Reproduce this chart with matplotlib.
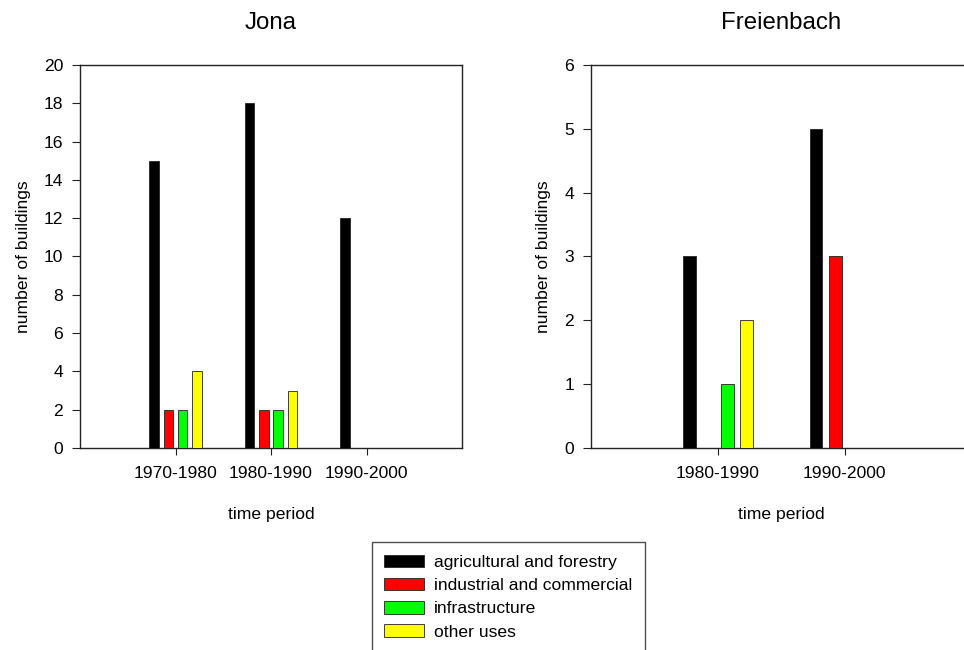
import numpy as np
import matplotlib
matplotlib.use('Agg')
import matplotlib.pyplot as plt
from matplotlib.patches import Patch

plt.rcParams['font.family'] = ['Liberation Sans', 'DejaVu Sans']

categories = ['agricultural and forestry', 'industrial and commercial',
              'infrastructure', 'other uses']
colors = ['#000000', '#ff0000', '#00ff00', '#ffff00']

# Jona
jona_periods = ['1970-1980', '1980-1990', '1990-2000']
jona_agri = [15, 18, 12]
jona_ind = [2, 2, 0]
jona_infra = [2, 2, 0]
jona_other = [4, 3, 0]

# Freienbach
frei_periods = ['1980-1990', '1990-2000']
frei_agri = [3, 5]
frei_ind = [0, 3]
frei_infra = [1, 0]
frei_other = [2, 0]

fs = 12.6
fig = plt.figure(figsize=(9.64, 6.5), dpi=100)


def draw_panel(ax, periods, series, title, ymax, xmax, right_spine=True):
    x = np.arange(1, len(periods) + 1)
    step, width = 0.15, 0.1
    for i, vals in enumerate(series):
        ax.bar(x + (i - 1.5) * step, vals, width, color=colors[i],
               edgecolor='#222222', linewidth=0.6, zorder=3)
    ax.set_xlim(0, xmax)
    ax.set_ylim(0, ymax)
    ax.set_xticks(x)
    ax.set_xticklabels(periods)
    ax.tick_params(axis='both', direction='out', labelsize=fs, color='#222222')
    ax.tick_params(axis='y', length=6, width=0.8, pad=6)
    ax.tick_params(axis='x', length=5, width=0.8, pad=8)
    for s in ax.spines.values():
        s.set_linewidth(1.0)
        s.set_color('#222222')
    ax.spines['right'].set_visible(right_spine)
    ax.set_title(title, fontsize=17.3, pad=26)
    ax.set_xlabel('time period', fontsize=fs, labelpad=19)
    ax.set_ylabel('number of buildings', fontsize=fs)


ax1 = fig.add_axes([0.0830, 0.3108, 0.3963, 0.5892])
draw_panel(ax1, jona_periods, [jona_agri, jona_ind, jona_infra, jona_other],
           'Jona', 20, 4)
ax1.set_yticks(np.arange(0, 21, 2))
ax1.yaxis.set_label_coords(-0.129, 0.5)

ax2 = fig.add_axes([0.6128, 0.3108, 0.3952, 0.5892])
draw_panel(ax2, frei_periods, [frei_agri, frei_ind, frei_infra, frei_other],
           'Freienbach', 6, 3)
ax2.set_yticks(np.arange(0, 7, 1))
ax2.yaxis.set_label_coords(-0.105, 0.5)

handles = [Patch(facecolor=c, edgecolor='#222222', linewidth=0.6) for c in colors]
leg = fig.legend(handles, categories, loc='upper left',
                 bbox_to_anchor=(371.7 / 964, 1 - 542.0 / 650),
                 fontsize=fs, frameon=True, fancybox=False, shadow=False,
                 handlelength=2.29, handleheight=0.74, handletextpad=0.57,
                 labelspacing=0.44, borderpad=0.72, borderaxespad=0)
leg.get_frame().set_edgecolor('#222222')
leg.get_frame().set_linewidth(1.0)

fig.savefig('out.png', dpi=100)
